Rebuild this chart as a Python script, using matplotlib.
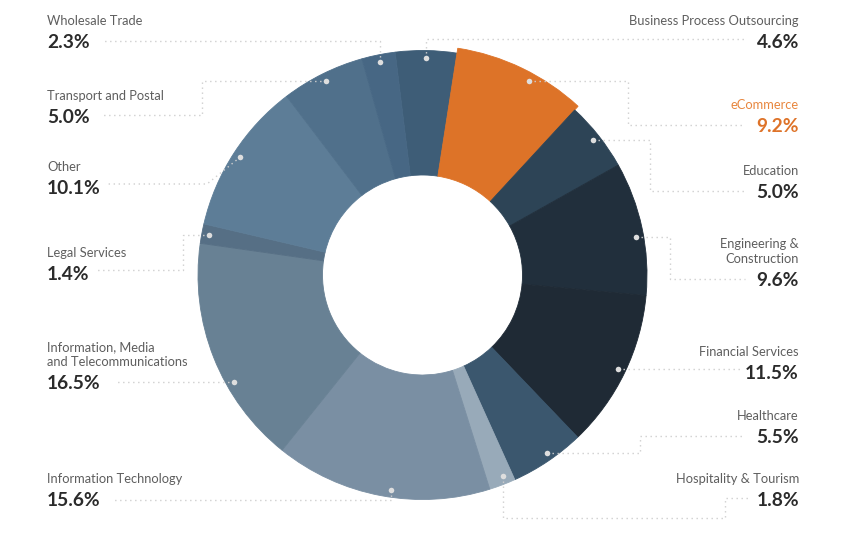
import numpy as np
import matplotlib.pyplot as plt

plt.rcParams['font.family'] = ['Lato', 'DejaVu Sans']

sectors = ["Business Process Outsourcing", "eCommerce", "Education",
           "Engineering &\nConstruction", "Financial Services", "Healthcare",
           "Hospitality & Tourism", "Information Technology",
           "Information, Media\nand Telecommunications", "Legal Services",
           "Other", "Transport and Postal", "Wholesale Trade"]
pct_text = [4.6, 9.2, 5.0, 9.6, 11.5, 5.5, 1.8, 15.6, 16.5, 1.4, 10.1, 5.0, 2.3]
# slice sizes as drawn in the picture (printed numbers only add up to 98.1)
shares = [4.4, 9.4, 5.0, 9.6, 11.4, 5.4, 1.9, 15.6, 16.5, 1.4, 11.0, 6.0, 2.4]
colors = ["#3e5d77", "#dd7328", "#2d4456", "#212f3c", "#1f2a35", "#3b576e",
          "#98aab9", "#7a8fa3", "#688194", "#566f85", "#5d7d97", "#50708b",
          "#476784"]
highlight = 1  # eCommerce

# label layout: side, value baseline, leader route (None -> dot coordinate)
layout = [
    ('R', 48, [(None, 39), (745, 39)]),
    ('R', 132, [(628, None), (628, 125), (745, 125)]),
    ('R', 198, [(650, None), (650, 191), (745, 191)]),
    ('R', 286, [(670, None), (670, 279), (745, 279)]),
    ('R', 379, [(740, None)]),
    ('R', 443, [(640, None), (640, 436), (745, 436)]),
    ('R', 506, [(None, 518), (725, 518), (725, 498), (750, 498)]),
    ('L', 506, [(None, 500), (111, 500)]),
    ('L', 389, [(116, None)]),
    ('L', 280, [(183, None), (183, 270), (97, 270)]),
    ('L', 194, [(207, 184), (105, 184)]),
    ('L', 123, [(202, None), (202, 115), (102, 115)]),
    ('L', 48, [(None, 41), (102, 41)]),
]
# small angle shifts of the label dots away from the slice middle (degrees)
dot_nudge = {1: 3, 3: 2, 5: -1, 6: -1, 7: -2.4, 8: -8}

W, H = 845, 535
cx, cy, R, r_in, R_hi = 422.5, 275, 224.5, 100, 229.5

fig = plt.figure(figsize=(W / 100, H / 100), dpi=100)
ax = fig.add_axes([0, 0, 1, 1])

# y axis runs downward, so counterclock=True turns clockwise on screen
wedges, _ = ax.pie(shares, colors=colors, startangle=263, counterclock=True,
                   center=(cx, cy), radius=R,
                   wedgeprops=dict(width=R - r_in, linewidth=0.6))
for w, c in zip(wedges, colors):
    w.set_edgecolor(c)
wedges[highlight].set_radius(R_hi)
wedges[highlight].set_width(R_hi - r_in)

ax.set_xlim(0, W)
ax.set_ylim(H, 0)
ax.set_aspect('equal')
ax.axis('off')

line_col = '#cfcfcf'
for i, w in enumerate(wedges):
    side, vy, route = layout[i]
    mid = np.deg2rad((w.theta1 + w.theta2) / 2 + dot_nudge.get(i, 0))
    rd = 221 if i == highlight else 217
    dx, dy = cx + rd * np.cos(mid), cy + rd * np.sin(mid)
    pts = [(dx, dy)] + [(dx if px is None else px, dy if py is None else py)
                        for px, py in route]
    xs, ys = zip(*pts)
    ax.plot(xs, ys, color=line_col, lw=1.0, dashes=(1, 2.6), zorder=3)
    ax.plot(dx, dy, 'o', ms=4, color='#dedede', mec='none', zorder=4)

    tx = 799 if side == 'R' else 47
    ha = 'right' if side == 'R' else 'left'
    name_col = '#e8873f' if i == highlight else '#5e5e5e'
    val_col = '#de7329' if i == highlight else '#2b2b2b'
    ax.text(tx, vy, f"{pct_text[i]:.1f}%", ha=ha, va='baseline',
            fontsize=13.8, fontweight='bold', color=val_col)
    lines = sectors[i].split('\n')
    for k, s in enumerate(reversed(lines)):
        ax.text(tx, vy - 23 - 15 * k, s, ha=ha, va='baseline',
                fontsize=9.3, color=name_col)

fig.savefig('out.png', dpi=100, facecolor='white')
